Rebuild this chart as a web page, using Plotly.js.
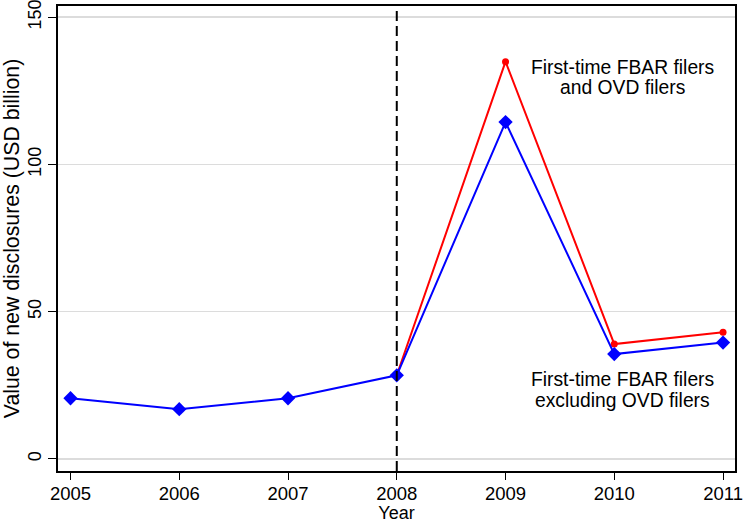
<!DOCTYPE html>
<html>
<head>
<meta charset="utf-8">
<script src="https://cdn.plot.ly/plotly-3.0.1.min.js"></script>
<style>html,body{margin:0;padding:0;background:#fff;}#chart{width:743px;height:523px;}</style>
</head>
<body>
<div id="chart"></div>
<script>
const years = [2005, 2006, 2007, 2008, 2009, 2010, 2011];
const excludingOVD = [20.6, 16.9, 20.6, 28.4, 114.4, 35.6, 39.5];
const redYears = [2008, 2009, 2010, 2011];
const includingOVD = [28.4, 134.9, 39.0, 43.0];
const yTicks = [0, 50, 100, 150];
const eventYear = 2008;
const labelTop = ["First-time FBAR filers", "and OVD filers"];
const labelBottom = ["First-time FBAR filers", "excluding OVD filers"];
const labelTopY = [132.9, 126.0];
const labelBottomY = [27.0, 19.9];
const labelX = 2010.08;

const font = "'Liberation Sans', Arial, sans-serif";

const traces = [
  {
    x: redYears, y: includingOVD, type: "scatter", mode: "lines+markers",
    line: {color: "rgb(255,0,0)", width: 2},
    marker: {color: "rgb(255,0,0)", size: 7, symbol: "circle"},
    hoverinfo: "x+y", showlegend: false
  },
  {
    x: years, y: excludingOVD, type: "scatter", mode: "lines+markers",
    line: {color: "rgb(0,0,255)", width: 2},
    marker: {color: "rgb(0,0,255)", size: 11, symbol: "diamond"},
    hoverinfo: "x+y", showlegend: false
  }
];

const annotations = [];
labelTop.forEach((t, i) => annotations.push({x: labelX, y: labelTopY[i], xref: "x", yref: "y", text: t,
  showarrow: false, borderpad: 0, font: {family: font, size: 19.3, color: "#000"}}));
labelBottom.forEach((t, i) => annotations.push({x: labelX, y: labelBottomY[i], xref: "x", yref: "y", text: t,
  showarrow: false, borderpad: 0, font: {family: font, size: 19.3, color: "#000"}}));

const layout = {
  width: 743, height: 523,
  margin: {l: 58, r: 8, t: 6, b: 52},
  paper_bgcolor: "#fff", plot_bgcolor: "#fff",
  font: {family: font, size: 18.5, color: "#000"},
  xaxis: {
    range: [2004.885, 2011.11],
    tickvals: years, ticktext: years.map(String),
    ticks: "outside", ticklen: 7, tickwidth: 1, tickcolor: "#000",
    ticklabeloverflow: "allow", ticklabelstandoff: -2,
    showline: true, linecolor: "#000", linewidth: 2, mirror: true,
    showgrid: false, zeroline: false,
    tickfont: {family: font, size: 18.5},
    title: {text: "Year", font: {family: font, size: 18}, standoff: 5}
  },
  yaxis: {
    range: [-4.1, 153.8],
    tickvals: yTicks, ticktext: yTicks.map(String),
    tickangle: -90,
    ticks: "outside", ticklen: 8, tickwidth: 1, tickcolor: "#000",
    ticklabeloverflow: "allow",
    showline: true, linecolor: "#000", linewidth: 2, mirror: true,
    showgrid: true, gridcolor: "#dcdcdc", gridwidth: 1.5,
    zeroline: false,
    tickfont: {family: font, size: 18},
    title: {text: "Value of new disclosures (USD billion)", font: {family: font, size: 21.3}, standoff: 2}
  },
  shapes: [{
    type: "line", xref: "x", yref: "paper",
    x0: eventYear, x1: eventYear, y0: 0, y1: 1,
    line: {color: "#000", width: 2, dash: "10px,5px"}
  }],
  annotations: annotations
};

Plotly.newPlot("chart", traces, layout, {displayModeBar: false, staticPlot: true});
</script>
</body>
</html>
